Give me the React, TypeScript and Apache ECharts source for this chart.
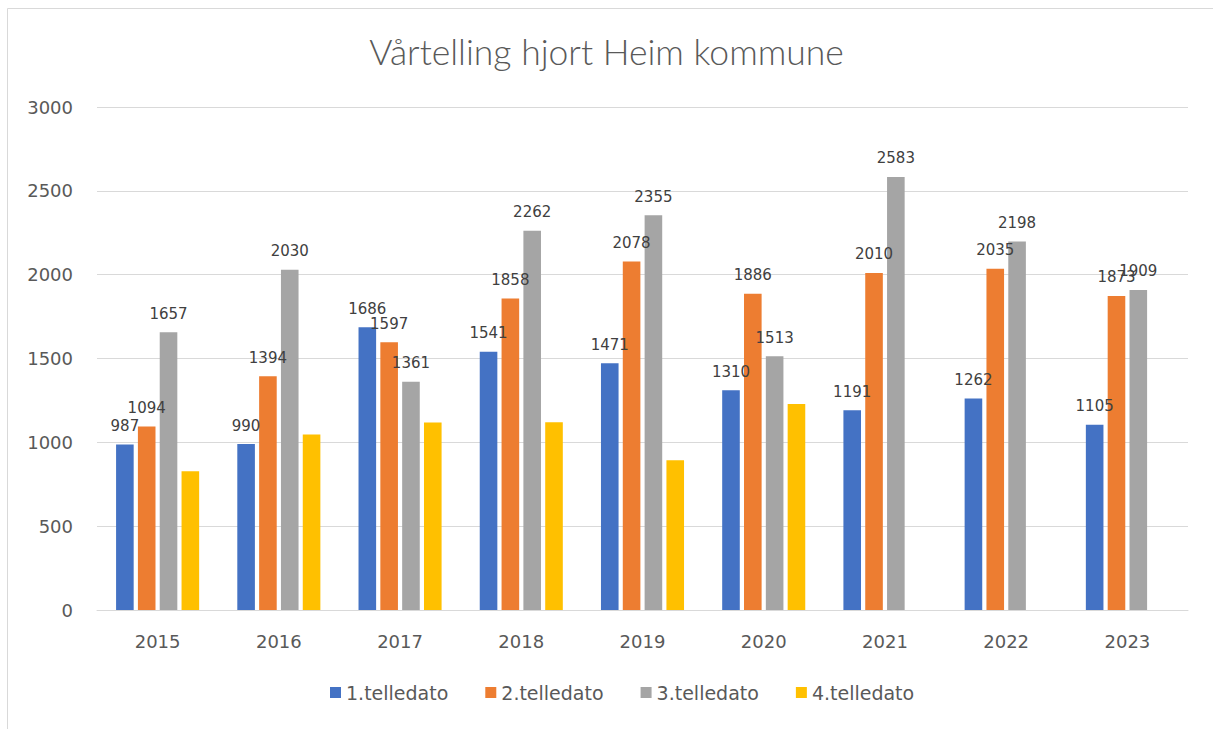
import React, { useEffect, useRef } from "react";
import * as echarts from "echarts";

const years = ["2015", "2016", "2017", "2018", "2019", "2020", "2021", "2022", "2023"];
const seriesNames = ["1.telledato", "2.telledato", "3.telledato", "4.telledato"];
const count1 = [987, 990, 1686, 1541, 1471, 1310, 1191, 1262, 1105];
const count2 = [1094, 1394, 1597, 1858, 2078, 1886, 2010, 2035, 1873];
const count3 = [1657, 2030, 1361, 2262, 2355, 1513, 2583, 2198, 1909];
const count4 = [827, 1047, 1119, 1120, 893, 1228, null, null, null];
const yTicks = { min: 0, max: 3000, interval: 500 };

const colors = ["#4472C4", "#ED7D31", "#A5A5A5", "#FFC000"];
const showLabels = [true, true, true, false];

export default function App() {
  const ref = useRef<HTMLDivElement>(null);
  useEffect(() => {
    if (!ref.current) return;
    const chart = echarts.init(ref.current, null, { renderer: "svg" });
    const all = [count1, count2, count3, count4];
    const font = "'DejaVu Sans', sans-serif";
    chart.setOption({
      animation: false,
      backgroundColor: "#ffffff",
      title: {
        text: "Vårtelling hjort Heim kommune",
        left: "center",
        top: 28,
        textStyle: {
          color: "#595959",
          fontSize: 35.5,
          fontWeight: 300,
          fontFamily: "Lato, 'Open Sans', sans-serif",
        },
      },
      graphic: [
        {
          type: "polyline",
          shape: { points: [[7.5, 740], [7.5, 8.5], [1220, 8.5]] },
          style: { stroke: "#d9d9d9", lineWidth: 1, fill: "none" },
          silent: true,
        },
      ],
      legend: {
        bottom: 22,
        left: 325,
        itemWidth: 11,
        itemHeight: 11,
        itemGap: 37,
        icon: "rect",
        textStyle: { color: "#595959", fontSize: 19, fontFamily: font },
        data: seriesNames,
      },
      grid: { left: 97, right: 25, top: 107, bottom: 119, containLabel: false },
      xAxis: {
        type: "category",
        data: years,
        axisLine: { lineStyle: { color: "#d9d9d9", width: 1 } },
        axisTick: { show: false },
        axisLabel: { color: "#595959", fontSize: 18, margin: 22, fontFamily: font },
      },
      yAxis: {
        type: "value",
        min: yTicks.min,
        max: yTicks.max,
        interval: yTicks.interval,
        axisLine: { show: false },
        axisTick: { show: false },
        splitLine: { lineStyle: { color: "#d9d9d9", width: 1 } },
        axisLabel: {
          color: "#595959",
          fontSize: 18,
          margin: 24,
          fontFamily: font,
          formatter: (v: number) => String(v),
        },
      },
      series: seriesNames.map((name, i) => ({
        name,
        type: "bar",
        data: all[i].map((v) => (v === null ? "-" : v)),
        barWidth: 17.6,
        barGap: "24%",
        itemStyle: { color: colors[i] },
        label: {
          show: showLabels[i],
          position: "top",
          distance: 11,
          color: "#404040",
          fontSize: 15,
          fontFamily: font,
        },
      })),
    });
    return () => chart.dispose();
  }, []);
  return (
    <div
      ref={ref}
      style={{ position: "fixed", left: 0, top: 0, width: 1213, height: 729 }}
    />
  );
}
